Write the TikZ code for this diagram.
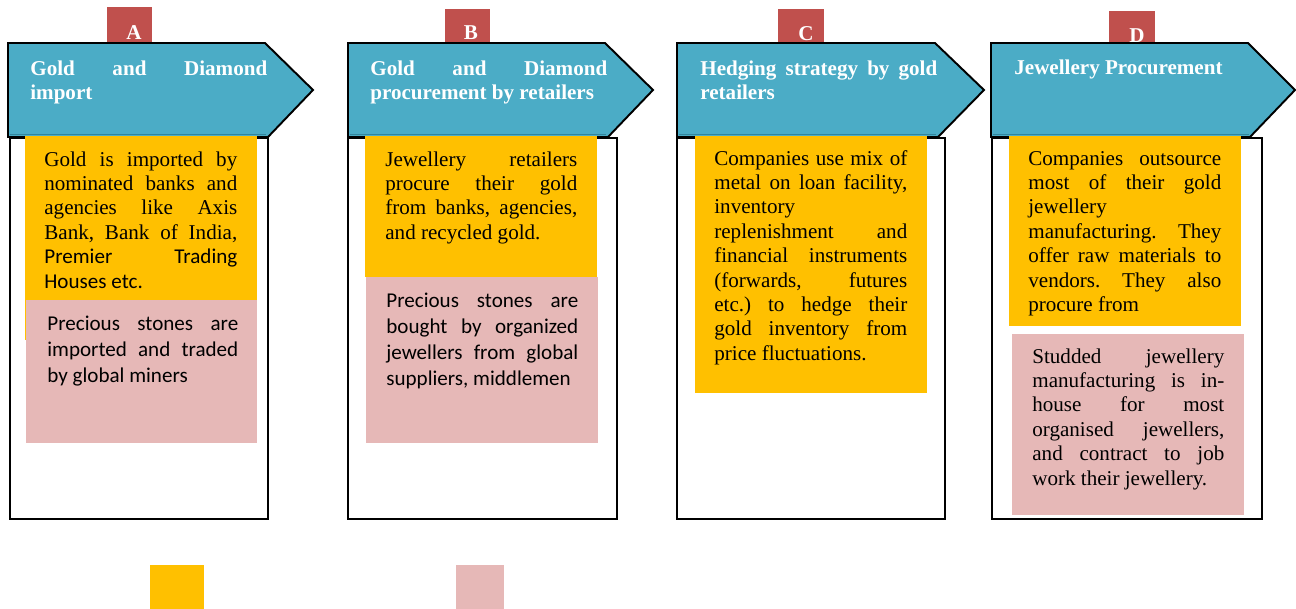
\documentclass[tikz,border=0pt]{standalone}
\usepackage{fontspec}
\setmainfont{Liberation Serif}
\newfontfamily\calibri{Carlito}
\usepackage{xcolor}
\usepackage{tikz}

\definecolor{tealhead}{HTML}{4BACC6}
\definecolor{tealdark}{HTML}{31859C}
\definecolor{tabred}{HTML}{C0504D}
\definecolor{goldfill}{HTML}{FFC000}
\definecolor{pinkfill}{HTML}{E6B8B7}
\hbadness=10000

\begin{document}
\frenchspacing
\tolerance=9999
\hyphenpenalty=10000
\begin{tikzpicture}[
    x=0.02cm, y=-0.02cm,
    tabbox/.style={fill=tabred},
    tabletter/.style={anchor=base, inner sep=0pt, text=white, font=\bfseries\fontsize{12pt}{14pt}\selectfont},
    headbox/.style={fill=tealhead, draw=black, line width=1.1pt},
    headedge/.style={draw=tealdark, line width=0.9pt},
    headtext/.style={anchor=base west, inner sep=0pt, text width=4.74cm, align=justify, text=white, font=\bfseries\fontsize{12pt}{14.2pt}\selectfont},
    bodybox/.style={draw=black, line width=1.3pt, fill=white},
    goldbox/.style={fill=goldfill},
    pinkbox/.style={fill=pinkfill},
    goldtext/.style={anchor=base west, inner sep=0pt, align=justify, font=\fontsize{12pt}{13.9pt}\selectfont},
    pinktext/.style={anchor=base west, inner sep=0pt, align=justify, font=\calibri\fontsize{12pt}{14.9pt}\selectfont}
]

\fill[white] (0,0) rectangle (1296,609);
\useasboundingbox (0,0) rectangle (1296,609);

% A
\fill[tabbox] (107,7) rectangle (152,45);
\node[tabletter] (lblA) at (134,39) {A};
\draw[bodybox] (10,138) rectangle (268,519);
\draw[headbox] (8,43) -- ++(257,0) -- ++(48,47) -- ++(-45,47) -- ++(-260,0) -- cycle;
\draw[headedge] (10,134.5) -- (266,134.5);
\fill[goldbox] (25,136) rectangle (257,340);
\fill[pinkbox] (26,300) rectangle (257,443);
\node[headtext] (titleA) at (30,75) {Gold and Diamond\linebreak import};
\node[goldtext, text width=3.86cm] (goldA) at (44,166) {Gold is imported by\linebreak nominated banks and\linebreak agencies like Axis\linebreak Bank, Bank of India,\linebreak {\calibri Premier Trading\linebreak Houses etc.}};
\node[pinktext, text width=3.82cm] (pinkA) at (47,330) {Precious stones are\linebreak imported and traded\linebreak by global miners};

% B
\fill[tabbox] (445,9) rectangle (490,45);
\node[tabletter] (lblB) at (471,39) {B};
\draw[bodybox] (348,138) rectangle (617,519);
\draw[headbox] (348,43) -- ++(257,0) -- ++(48,47) -- ++(-45,47) -- ++(-260,0) -- cycle;
\draw[headedge] (350,134.5) -- (606,134.5);
\fill[goldbox] (365,136) rectangle (597,277);
\fill[pinkbox] (366,277) rectangle (598,443);
\node[headtext] (titleB) at (370,75) {Gold and Diamond\linebreak procurement by retailers};
\node[goldtext, text width=3.84cm] (goldB) at (385,166) {Jewellery retailers\linebreak procure their gold\linebreak from banks, agencies,\linebreak and recycled gold.};
\node[pinktext, text width=3.84cm] (pinkB) at (386,307) {Precious stones are\linebreak bought by organized\linebreak jewellers from global\linebreak suppliers, middlemen};

% C
\fill[tabbox] (778,9) rectangle (824,45);
\node[tabletter] (lblC) at (806,40) {C};
\draw[bodybox] (677,138) rectangle (945,519);
\draw[headbox] (677,43) -- ++(258,0) -- ++(49,47) -- ++(-46,47) -- ++(-261,0) -- cycle;
\draw[headedge] (679,134.5) -- (936,134.5);
\fill[goldbox] (695,136) rectangle (927,393);
\node[headtext] (titleC) at (700,75) {Hedging strategy by gold\linebreak retailers};
\node[goldtext, text width=3.86cm] (goldC) at (714,165) {Companies use mix of\linebreak metal on loan facility,\linebreak inventory\linebreak replenishment and\linebreak financial instruments\linebreak (forwards, futures\linebreak etc.) to hedge their\linebreak gold inventory from\linebreak price fluctuations.};

% D
\fill[tabbox] (1109,11) rectangle (1155,45);
\node[tabletter] (lblD) at (1137,42) {D};
\draw[bodybox] (992,138) rectangle (1262,519);
\draw[headbox] (991,43) -- ++(257,0) -- ++(47,47) -- ++(-45,47) -- ++(-259,0) -- cycle;
\draw[headedge] (993,134.5) -- (1249,134.5);
\fill[goldbox] (1009,136) rectangle (1241,326);
\fill[pinkbox] (1012,334) rectangle (1244,515);
\node[headtext] (titleD) at (1014,74) {Jewellery Procurement};
\node[goldtext, text width=3.86cm] (goldD) at (1028,165) {Companies outsource\linebreak most of their gold\linebreak jewellery\linebreak manufacturing. They\linebreak offer raw materials to\linebreak vendors. They also\linebreak procure from};
\node[goldtext, text width=3.84cm] (pinkD) at (1032,363) {Studded jewellery\linebreak manufacturing is in-\linebreak house for most\linebreak organised jewellers,\linebreak and contract to job\linebreak work their jewellery.};

% key squares
\fill[goldbox] (150,565) rectangle (204,609);
\fill[pinkbox] (456,565) rectangle (504,609);

\end{tikzpicture}
\end{document}
